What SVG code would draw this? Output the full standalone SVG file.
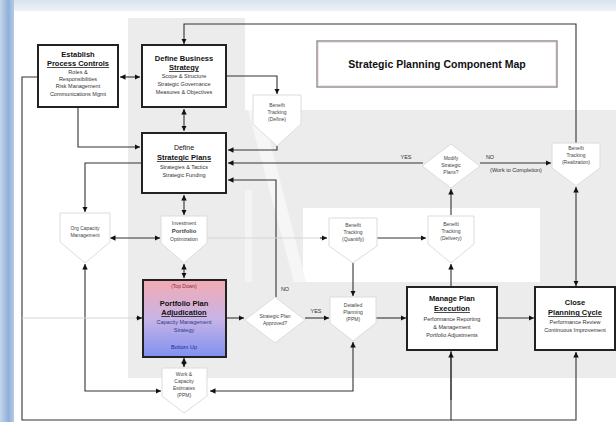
<svg xmlns="http://www.w3.org/2000/svg" width="616" height="422" viewBox="0 0 616 422">
<defs>
<linearGradient id="topg" x1="0" y1="0" x2="0" y2="1"><stop offset="0" stop-color="#d9e3ee"/><stop offset="1" stop-color="#eef3f8"/></linearGradient>
<linearGradient id="leftg" x1="0" y1="0" x2="1" y2="0"><stop offset="0" stop-color="#c5d6ea"/><stop offset="0.6" stop-color="#8fb0d8"/><stop offset="1" stop-color="#b7cbe4"/></linearGradient>
<linearGradient id="ppg" x1="0" y1="0" x2="0" y2="1"><stop offset="0" stop-color="#f4aab2"/><stop offset="0.5" stop-color="#c8b4e6"/><stop offset="1" stop-color="#7f90f0"/></linearGradient>
<marker id="ah" viewBox="0 0 6 6" refX="6" refY="3" markerWidth="5" markerHeight="5" orient="auto"><path d="M0,0 L6,3 L0,6 z" fill="#111"/></marker>
<marker id="as" viewBox="0 0 6 6" refX="0" refY="3" markerWidth="5" markerHeight="5" orient="auto"><path d="M6,0 L0,3 L6,6 z" fill="#111"/></marker>
</defs>
<style>
text{font-family:"Liberation Sans",Arial,sans-serif;text-anchor:middle;fill:#111}
.box{fill:#fff;stroke:#222;stroke-width:2}
.ref{fill:#fff;stroke:#dcdcdc;stroke-width:1}
.t{font-size:7.5px;font-weight:bold}
.u{text-decoration:underline}
.s{font-size:5.5px;fill:#333}
.r{font-size:5px;fill:#444}
.lbl{font-size:5.5px;fill:#333}
.c{fill:none;stroke:#333;stroke-width:1.1}
.f{fill:none;stroke:#d6d6d6;stroke-width:1}
</style>
<rect x="0" y="0" width="616" height="422" fill="#fff"/>
<rect x="0" y="0" width="616" height="11" fill="url(#topg)"/>
<rect x="0" y="0" width="14" height="422" fill="url(#leftg)"/>
<rect x="128" y="18" width="117" height="360" fill="#ececec"/>
<rect x="245" y="110" width="371" height="268" fill="#ececec"/>
<rect x="303" y="208" width="237" height="74" fill="#fff"/>
<polygon points="248,110 262,110 306,282 294,282" fill="#f6f6f6"/>
<polygon points="245,190 252,190 252,282 245,282" fill="#f4f4f4"/>

<g id="connectors">
<line class="c" x1="120" y1="77" x2="140" y2="77" marker-start="url(#as)" marker-end="url(#ah)"/>
<polyline class="c" points="576,143 576,24 184,24 184,44" marker-end="url(#ah)"/>
<polyline class="c" points="226,76 277,76 277,94" marker-end="url(#ah)"/>
<polyline class="c" points="277,138 277,150 228,150" marker-end="url(#ah)"/>
<line class="c" x1="184" y1="109" x2="184" y2="131" marker-start="url(#as)" marker-end="url(#ah)"/>
<polyline class="c" points="78,107 78,147 140,147" marker-end="url(#ah)"/>
<polyline class="c" points="451,350 451,420 22,420 22,77 38,77"/>
<line class="c" x1="451" y1="400" x2="451" y2="352" marker-end="url(#ah)"/>
<polyline class="c" points="451,420 576,420 576,352" marker-end="url(#ah)"/>
<polyline class="c" points="142,163 85,163 85,212" marker-end="url(#ah)"/>
<line class="c" x1="184" y1="195" x2="184" y2="215" marker-start="url(#as)" marker-end="url(#ah)"/>
<line class="c" x1="110" y1="238" x2="160" y2="238" marker-start="url(#as)" marker-end="url(#ah)"/>
<polyline class="c" points="85,264 85,391 161,391" marker-start="url(#as)" marker-end="url(#ah)"/>
<line class="c" x1="184" y1="264" x2="184" y2="278" marker-start="url(#as)" marker-end="url(#ah)"/>
<line class="c" x1="184" y1="358" x2="184" y2="367" marker-start="url(#as)" marker-end="url(#ah)"/>
<line class="f" x1="22" y1="318" x2="141" y2="318"/>
<line class="c" x1="136" y1="318" x2="142" y2="318" marker-end="url(#ah)"/>
<line class="c" x1="227" y1="318" x2="244" y2="318" marker-end="url(#ah)"/>
<polyline class="c" points="276,297 276,180 228,180" marker-end="url(#ah)"/>
<line class="c" x1="305" y1="318" x2="329" y2="318" marker-end="url(#ah)"/>
<line class="c" x1="375" y1="318" x2="406" y2="318" marker-end="url(#ah)"/>
<polyline class="c" points="353,342 353,391 210,391" marker-start="url(#as)" marker-end="url(#ah)"/>
<line class="c" x1="353" y1="262" x2="353" y2="296" marker-end="url(#ah)"/>
<line class="c" x1="423" y1="163" x2="228" y2="163" marker-end="url(#ah)"/>
<line class="f" x1="207" y1="238" x2="325" y2="238"/>
<line class="c" x1="320" y1="238" x2="327" y2="238" marker-end="url(#ah)"/>
<line class="c" x1="377" y1="238" x2="426" y2="238" marker-end="url(#ah)"/>
<line class="c" x1="451" y1="215" x2="451" y2="189" marker-end="url(#ah)"/>
<line class="c" x1="451" y1="287" x2="451" y2="264" marker-end="url(#ah)"/>
<line class="c" x1="480" y1="163" x2="551" y2="163" marker-end="url(#ah)"/>
<line class="c" x1="576" y1="286" x2="576" y2="187" marker-start="url(#as)" marker-end="url(#ah)"/>
<line class="c" x1="497" y1="318" x2="534" y2="318" marker-end="url(#ah)"/>
<text class="lbl" x="406" y="159">YES</text>
<text class="lbl" x="490" y="159">NO</text>
<text class="lbl" x="516" y="172">(Work to Completion)</text>
<text class="lbl" x="285" y="291">NO</text>
<text class="lbl" x="316" y="313">YES</text>
</g>

<g id="title">
<rect x="317" y="41" width="240" height="46" fill="#fff" stroke="#7a7a7a" stroke-width="1.2"/>
<rect x="318.5" y="42.5" width="237" height="43" fill="none" stroke="#f3d0d4" stroke-width="0.6"/>
<text x="437" y="68" style="font-size:10.5px;font-weight:bold">Strategic Planning Component Map</text>
</g>

<g id="establish">
<rect class="box" x="38" y="45" width="80" height="62"/>
<text class="t" x="78" y="57">Establish</text>
<text class="t u" x="78" y="66">Process Controls</text>
<text class="s" x="78" y="74">Roles &amp;</text>
<text class="s" x="78" y="81">Responsibilities</text>
<text class="s" x="78" y="88">Risk Management</text>
<text class="s" x="78" y="96">Communications Mgmt</text>
</g>

<g id="business">
<rect class="box" x="142" y="45" width="84" height="62"/>
<text class="t" x="184" y="61">Define  Business</text>
<text class="t u" x="184" y="70">Strategy</text>
<text class="s" x="184" y="78">Scope &amp; Structure</text>
<text class="s" x="184" y="86">Strategic Governance</text>
<text class="s" x="184" y="94">Measures &amp; Objectives</text>
</g>

<g id="plans">
<rect class="box" x="142" y="133" width="84" height="60"/>
<text class="t" x="184" y="150" style="font-weight:normal;font-size:7px">Define</text>
<text class="t u" x="184" y="160">Strategic Plans</text>
<text class="s" x="184" y="169">Strategies &amp; Tactics</text>
<text class="s" x="184" y="177">Strategic Funding</text>
</g>

<g id="bt-define">
<polygon class="ref" points="253,95 301,95 301,124 277,146 253,124"/>
<text class="r" x="277" y="107">Benefit</text>
<text class="r" x="277" y="114">Tracking</text>
<text class="r" x="277" y="121">(Define)</text>
</g>

<g id="org-capacity">
<polygon class="ref" points="60,213 110,213 110,242 85,263 60,242"/>
<text class="r" x="85" y="230">Org Capacity</text>
<text class="r" x="85" y="237">Management</text>
</g>

<g id="investment">
<polygon class="ref" points="161,216 207,216 207,243 184,263 161,243"/>
<text class="r" x="184" y="225">Investment</text>
<text class="r" x="184" y="233" style="font-size:6px;font-weight:bold">Portfolio</text>
<text class="r" x="184" y="241">Optimization</text>
</g>

<g id="portfolio-plan">
<rect x="143" y="280" width="83" height="77" fill="url(#ppg)" stroke="#222" stroke-width="2"/>
<text x="184" y="288" style="font-size:5px;fill:#8a2a3a">(Top Down)</text>
<text class="t" x="184" y="306">Portfolio Plan</text>
<text class="t u" x="184" y="315">Adjudication</text>
<text x="184" y="324" style="font-size:5.5px;fill:#2a3a8a">Capacity Management</text>
<text x="184" y="332" style="font-size:5.5px;fill:#2a3a8a">Strategy</text>
<text x="184" y="349" style="font-size:5.5px;fill:#1a2aa0">Bottom Up</text>
</g>

<g id="work-estimates">
<polygon class="ref" points="162,368 207,368 207,396 184,413 162,396"/>
<text class="r" x="184" y="376">Work &amp;</text>
<text class="r" x="184" y="383">Capacity</text>
<text class="r" x="184" y="390">Estimates</text>
<text class="r" x="184" y="397">(PPM)</text>
</g>

<g id="approved">
<polygon class="ref" points="275,297 305,320 275,343 245,320"/>
<text class="r" x="275" y="318">Strategic Plan</text>
<text class="r" x="275" y="325">Approved?</text>
</g>

<g id="detailed">
<polygon class="ref" points="330,297 376,297 376,323 353,341 330,323"/>
<text class="r" x="353" y="307">Detailed</text>
<text class="r" x="353" y="314">Planning</text>
<text class="r" x="353" y="321">(PPM)</text>
</g>

<g id="bt-quantify">
<polygon class="ref" points="329,218 377,218 377,246 353,263 329,246"/>
<text class="r" x="353" y="227">Benefit</text>
<text class="r" x="353" y="234">Tracking</text>
<text class="r" x="353" y="241">(Quantify)</text>
</g>

<g id="bt-delivery">
<polygon class="ref" points="428,216 474,216 474,244 451,263 428,244"/>
<text class="r" x="451" y="226">Benefit</text>
<text class="r" x="451" y="233">Tracking</text>
<text class="r" x="451" y="240">(Delivery)</text>
</g>

<g id="modify">
<polygon class="ref" points="451,144 480,166 451,188 422,166"/>
<text class="r" x="451" y="160">Modify</text>
<text class="r" x="451" y="167">Strategic</text>
<text class="r" x="451" y="174">Plans?</text>
</g>

<g id="bt-realization">
<polygon class="ref" points="552,143 600,143 600,168 576,186 552,168"/>
<text class="r" x="576" y="150">Benefit</text>
<text class="r" x="576" y="157">Tracking</text>
<text class="r" x="576" y="164">(Realization)</text>
</g>

<g id="manage">
<rect class="box" x="407" y="287" width="90" height="63"/>
<text class="t" x="452" y="301">Manage Plan</text>
<text class="t u" x="452" y="311">Execution</text>
<text class="s" x="452" y="321">Performance Reporting</text>
<text class="s" x="452" y="329">&amp; Management</text>
<text class="s" x="452" y="337">Portfolio Adjustments</text>
</g>

<g id="close">
<rect class="box" x="535" y="287" width="80" height="63"/>
<text class="t" x="575" y="305">Close</text>
<text class="t u" x="575" y="315">Planning Cycle</text>
<text class="s" x="575" y="324">Performance Review</text>
<text class="s" x="575" y="332">Continuous Improvement</text>
</g>
</svg>
